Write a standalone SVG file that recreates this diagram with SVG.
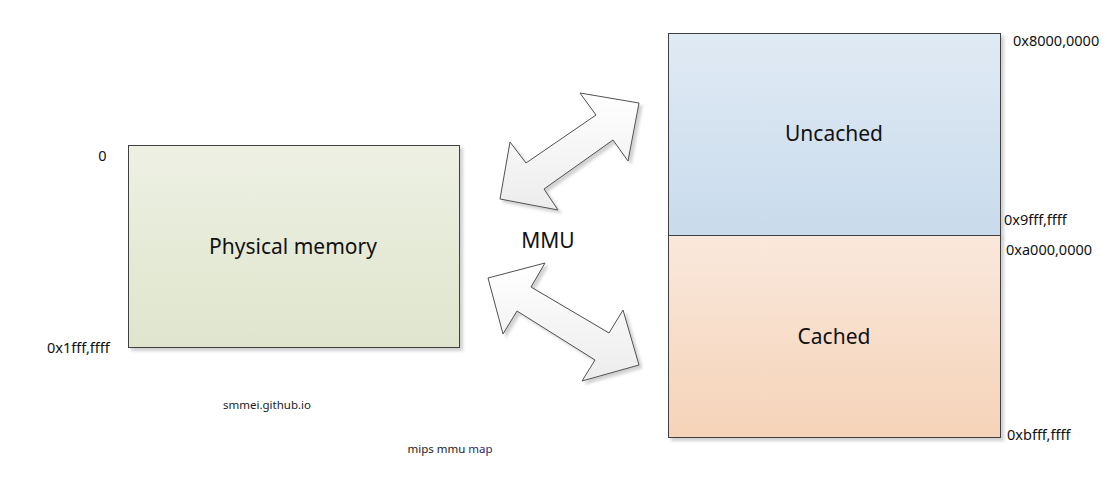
<svg xmlns="http://www.w3.org/2000/svg" width="1107" height="486" viewBox="0 0 1107 486">
  <defs>
    <linearGradient id="gGreen" x1="0" y1="0" x2="0" y2="1">
      <stop offset="0" stop-color="#edf0e3"/>
      <stop offset="1" stop-color="#dfe5cd"/>
    </linearGradient>
    <linearGradient id="gBlue" x1="0" y1="0" x2="0" y2="1">
      <stop offset="0" stop-color="#e0eaf4"/>
      <stop offset="1" stop-color="#c9dbec"/>
    </linearGradient>
    <linearGradient id="gOrange" x1="0" y1="0" x2="0" y2="1">
      <stop offset="0" stop-color="#fae8dc"/>
      <stop offset="1" stop-color="#f5d3b8"/>
    </linearGradient>
    <linearGradient id="gArrow" x1="0" y1="0" x2="0" y2="1">
      <stop offset="0" stop-color="#ffffff"/>
      <stop offset="1" stop-color="#ececec"/>
    </linearGradient>
    <filter id="shadow" x="-10%" y="-10%" width="130%" height="130%">
      <feDropShadow dx="3" dy="3" stdDeviation="1.5" flood-color="#000" flood-opacity="0.18"/>
    </filter>
  </defs>
  <style>
    .box { stroke: #404040; stroke-width: 1; filter: url(#shadow); }
    .arrow { fill: url(#gArrow); stroke: #505050; stroke-width: 1; stroke-linejoin: miter; filter: url(#shadow); }
    .big { font-family: "Noto Sans", "Open Sans", sans-serif; font-size: 21px; fill: #111; text-anchor: middle; }
    .addr { font-family: "Noto Sans", "Open Sans", sans-serif; font-size: 14.5px; fill: #111; }
    .small { font-family: "Noto Sans", "Open Sans", sans-serif; font-size: 11.5px; fill: #222; }
  </style>
  <rect width="1107" height="486" fill="#ffffff"/>

  <g id="physical-memory">
    <rect class="box" x="128.5" y="145.5" width="331" height="202" fill="url(#gGreen)"/>
    <text class="big" x="293" y="254">Physical memory</text>
  </g>

  <g id="uncached">
    <rect class="box" x="668.5" y="33.5" width="332" height="202" fill="url(#gBlue)"/>
    <text class="big" x="834" y="141">Uncached</text>
  </g>

  <g id="cached">
    <rect class="box" x="668.5" y="235.5" width="332" height="202" fill="url(#gOrange)"/>
    <text class="big" x="834" y="344">Cached</text>
  </g>

  <g id="connectors">
    <polygon class="arrow" points="639,103 580,93 596,115 526,163 510,142 500,199 558,210 544,189 613,140 628,161"/>
    <polygon class="arrow" points="488,278 545,263 531,287 609,333 623,310 639,365 582,381 595,360 517,311 503,334"/>
  </g>

  <g id="mmu-label">
    <text class="big" x="548" y="248" font-size="22">MMU</text>
  </g>

  <g id="address-labels">
    <text class="addr" x="102.5" y="161" text-anchor="middle">0</text>
    <text class="addr" x="47" y="353">0x1fff,ffff</text>
    <text class="addr" x="1013" y="46">0x8000,0000</text>
    <text class="addr" x="1004" y="225">0x9fff,ffff</text>
    <text class="addr" x="1006" y="255">0xa000,0000</text>
    <text class="addr" x="1007" y="440">0xbfff,ffff</text>
  </g>

  <g id="captions">
    <text class="small" x="267" y="409" text-anchor="middle">smmei.github.io</text>
    <text class="small" x="450" y="453" text-anchor="middle"><tspan>mips mmu </tspan><tspan fill="#2c2a6e">map</tspan></text>
  </g>
</svg>
